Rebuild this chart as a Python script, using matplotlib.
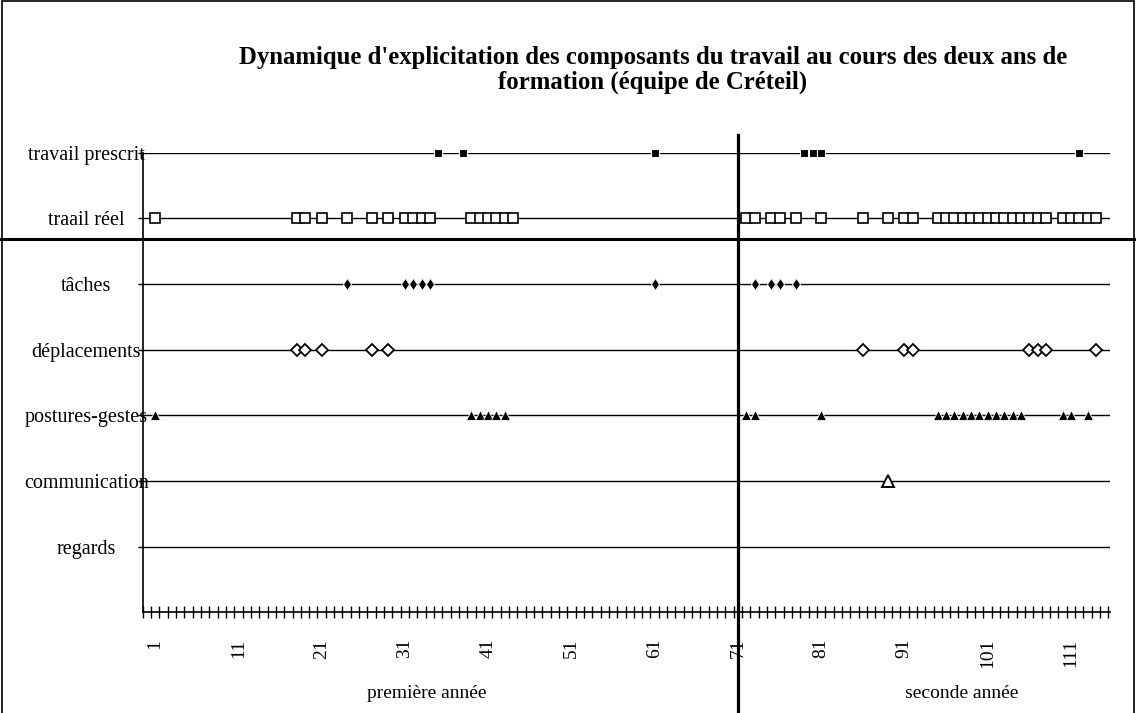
import matplotlib
matplotlib.use('Agg')
import matplotlib.pyplot as plt
from matplotlib.patches import Rectangle

plt.rcParams['font.family'] = ['Liberation Serif', 'DejaVu Serif']

# rows from bottom (1) to top (7)
rows = ['regards', 'communication', 'postures-gestes', 'déplacements',
        'tâches', 'traail réel', 'travail prescrit']

tick_pos = [1, 11, 21, 31, 41, 51, 61, 71, 81, 91, 101, 111]
tick_labels = ['1', '11', '21', '31', '41', '51', '61', '71', '81', '91', '101', '111']

# session numbers where each component was made explicit
prescrit = [35, 38, 61, 79, 80, 81, 112]
reel = [1, 18, 19, 21, 24, 27, 29, 31, 32, 33, 34, 39, 40, 41, 42, 43, 44,
        72, 73, 75, 76, 78, 81, 86, 89, 91, 92,
        95, 96, 97, 98, 99, 100, 101, 102, 103, 104, 105, 106, 107, 108,
        110, 111, 112, 113, 114]
taches = [24, 31, 32, 33, 34, 61, 73, 75, 76, 78]
deplacements = [18, 19, 21, 27, 29, 86, 91, 92, 106, 107, 108, 114]
postures = [1, 39, 40, 41, 42, 43, 72, 73, 81,
            95, 96, 97, 98, 99, 100, 101, 102, 103, 104, 105, 110, 111, 113]
communication = [89]
regards = []

fig = plt.figure(figsize=(11.36, 7.13), dpi=100)
ax = fig.add_axes([0.1256, 0.1411, 0.8515, 0.6447])
ax.set_xlim(-0.3, 115.7)
ax.set_ylim(0, 7)

ax.plot(prescrit, [7] * len(prescrit), ls='none', marker='s', ms=5.8,
        mfc='black', mec='white', mew=0.8, clip_on=False)
ax.plot(reel, [6] * len(reel), ls='none', marker='s', ms=6.8,
        mfc='white', mec='black', mew=1.2)
ax.plot(taches, [5] * len(taches), ls='none', marker='d', ms=6,
        mfc='black', mec='white', mew=0.6)
ax.plot(deplacements, [4] * len(deplacements), ls='none', marker='D', ms=6,
        mfc='white', mec='black', mew=1.3)
ax.plot(postures, [3] * len(postures), ls='none', marker='^', ms=7,
        mfc='black', mec='white', mew=0.6)
ax.plot(communication, [2] * len(communication), ls='none', marker='^', ms=8.5,
        mfc='white', mec='black', mew=1.4)
ax.plot(regards, [1] * len(regards), ls='none', marker='o')

ax.set_axisbelow(True)
ax.grid(axis='y', color='black', lw=1)

ax.set_yticks(range(1, 8))
ax.set_yticklabels(rows, ha='center')
ax.tick_params(axis='y', direction='out', length=3.6, width=1, pad=37, labelsize=14.5)

ax.set_xticks(tick_pos)
ax.set_xticklabels(tick_labels, rotation=90, va='top')
ax.set_xticks([k + 0.5 for k in range(-1, 116)], minor=True)
ax.tick_params(axis='x', which='major', length=0, pad=19, labelsize=14)
ax.tick_params(axis='x', which='minor', direction='inout', length=8, width=1)

for s in ['top', 'right']:
    ax.spines[s].set_visible(False)
for s in ['left', 'bottom']:
    ax.spines[s].set_linewidth(1.2)

# separation between the two years and between prescribed/real work and the rest
ax.axvline(71, ymin=-0.219, ymax=1.039, color='black', lw=2.3, clip_on=False)
ax.axhline(5.68, xmin=-0.15, xmax=1.03, color='black', lw=2.2, clip_on=False)

fig.text(653 / 1136, 1 - 70 / 713,
         "Dynamique d'explicitation des composants du travail au cours des deux ans de\n"
         "formation (équipe de Créteil)",
         ha='center', va='center', fontsize=17.8, fontweight='bold', linespacing=1.1)
fig.text(427 / 1136, 1 - 693 / 713, 'première année', ha='center', va='center', fontsize=14)
fig.text(962 / 1136, 1 - 693 / 713, 'seconde année', ha='center', va='center', fontsize=14)

fig.add_artist(Rectangle((0.0015, -0.01), 0.9965, 1.0085, transform=fig.transFigure,
                         fill=False, lw=1.2, ec='black'))

fig.savefig('out.png', dpi=100)
